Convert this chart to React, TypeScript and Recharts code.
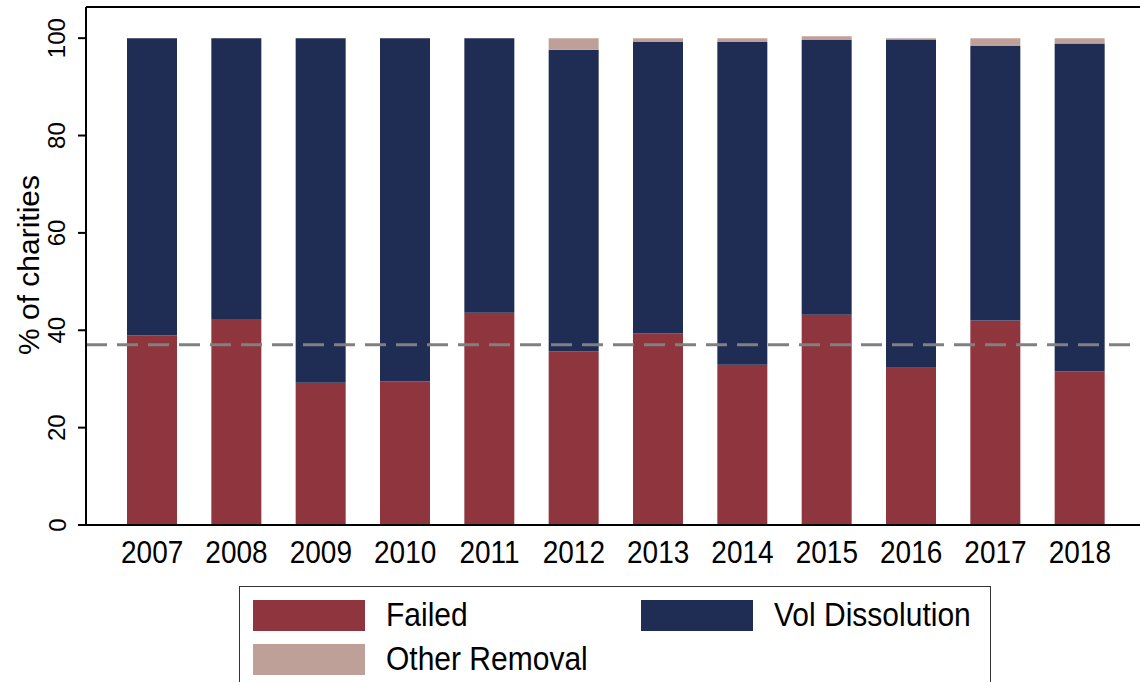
import React from 'react';
import {
  BarChart,
  Bar,
  XAxis,
  YAxis,
  ReferenceLine,
} from 'recharts';

const years = ['2007', '2008', '2009', '2010', '2011', '2012', '2013', '2014', '2015', '2016', '2017', '2018'];
const failed = [38.9, 42.3, 29.2, 29.5, 43.6, 35.7, 39.4, 32.9, 43.2, 32.3, 42.0, 31.6];
const volDissolution = [61.1, 57.7, 70.8, 70.5, 56.4, 61.9, 59.8, 66.3, 56.4, 67.4, 56.4, 67.3];
const otherRemoval = [0, 0, 0, 0, 0, 2.4, 0.8, 0.8, 0.8, 0.3, 1.6, 1.1];
const yTicks = [0, 20, 40, 60, 80, 100];
const average = 37;

const series = [
  { key: 'failed', name: 'Failed', color: '#8f353e' },
  { key: 'vol', name: 'Vol Dissolution', color: '#1f2d54' },
  { key: 'other', name: 'Other Removal', color: '#bfa099' },
];

const data = years.map((year, i) => ({
  year,
  failed: failed[i],
  vol: volDissolution[i],
  other: otherRemoval[i],
}));

const FONT = '"Liberation Sans", Arial, sans-serif';

const YTick = ({ x, y, payload }: any) => {
  const cx = x - 21;
  return (
    <text
      x={cx}
      y={y}
      transform={`rotate(-90, ${cx}, ${y})`}
      textAnchor="middle"
      dominantBaseline="central"
      fontSize={24}
      fontFamily={FONT}
      fill="#000"
    >
      {payload.value}
    </text>
  );
};

// stata text looks a bit tall, stretch it vertically
const XTick = ({ x, y, payload }: any) => (
  <text
    x={x}
    y={y + 30}
    transform={`translate(0, ${y + 30}) scale(1, 1.12) translate(0, ${-(y + 30)})`}
    textAnchor="middle"
    fontSize={28}
    fontFamily={FONT}
    fill="#000"
  >
    {payload.value}
  </text>
);

const YLabel = () => (
  <text
    x={28}
    y={265}
    transform="rotate(-90, 28, 265)"
    textAnchor="middle"
    dominantBaseline="central"
    fontSize={30}
    fontFamily={FONT}
    fill="#000"
  >
    % of charities
  </text>
);

const Swatch = ({ color }: { color: string }) => (
  <div style={{ width: 112, height: 31, background: color }} />
);

const LegendBox = () => (
  <div
    style={{
      position: 'absolute',
      left: 239,
      top: 586,
      width: 752,
      height: 120,
      border: '1.5px solid #333',
      boxSizing: 'border-box',
      fontFamily: FONT,
      fontSize: 30,
      color: '#000',
    }}
  >
    {series.map((s, i) => {
      const col = i === 1 ? 1 : 0;
      const row = i === 2 ? 1 : 0;
      return (
        <div
          key={s.key}
          style={{
            position: 'absolute',
            left: 13 + col * 388,
            top: 11 + row * 44,
            display: 'flex',
            alignItems: 'center',
            gap: 21,
          }}
        >
          <Swatch color={s.color} />
          <span style={{ display: 'inline-block', transform: 'scaleY(1.1)' }}>{s.name}</span>
        </div>
      );
    })}
  </div>
);

export default function App() {
  return (
    <div style={{ position: 'absolute', left: 0, top: 0, width: 1140, height: 682, overflow: 'hidden', background: '#fff' }}>
      <BarChart
        width={1160}
        height={682}
        data={data}
        margin={{ top: 7, right: 14, left: 0, bottom: 117 }}
        barSize={50}
      >
        <XAxis
          dataKey="year"
          height={40}
          padding={{ left: 24, right: 24 }}
          tickLine={false}
          axisLine={{ stroke: '#000', strokeWidth: 2 }}
          tick={<XTick />}
          interval={0}
        />
        <YAxis
          width={86}
          domain={[0, 106.4]}
          allowDataOverflow
          ticks={yTicks}
          tickSize={8}
          tickMargin={0}
          tickLine={{ stroke: '#000', strokeWidth: 2 }}
          axisLine={{ stroke: '#000', strokeWidth: 2 }}
          tick={<YTick />}
        />
        <ReferenceLine y={106.4} stroke="#000" strokeWidth={2} ifOverflow="extendDomain" />
        {series.map((s) => (
          <Bar
            key={s.key}
            dataKey={s.key}
            name={s.name}
            stackId="a"
            fill={s.color}
            isAnimationActive={false}
          />
        ))}
        <ReferenceLine y={average} stroke="#808080" strokeWidth={3} strokeDasharray="21 10" />
      </BarChart>
      <svg width={60} height={560} style={{ position: 'absolute', left: 0, top: 0 }}>
        <YLabel />
      </svg>
      <LegendBox />
    </div>
  );
}
